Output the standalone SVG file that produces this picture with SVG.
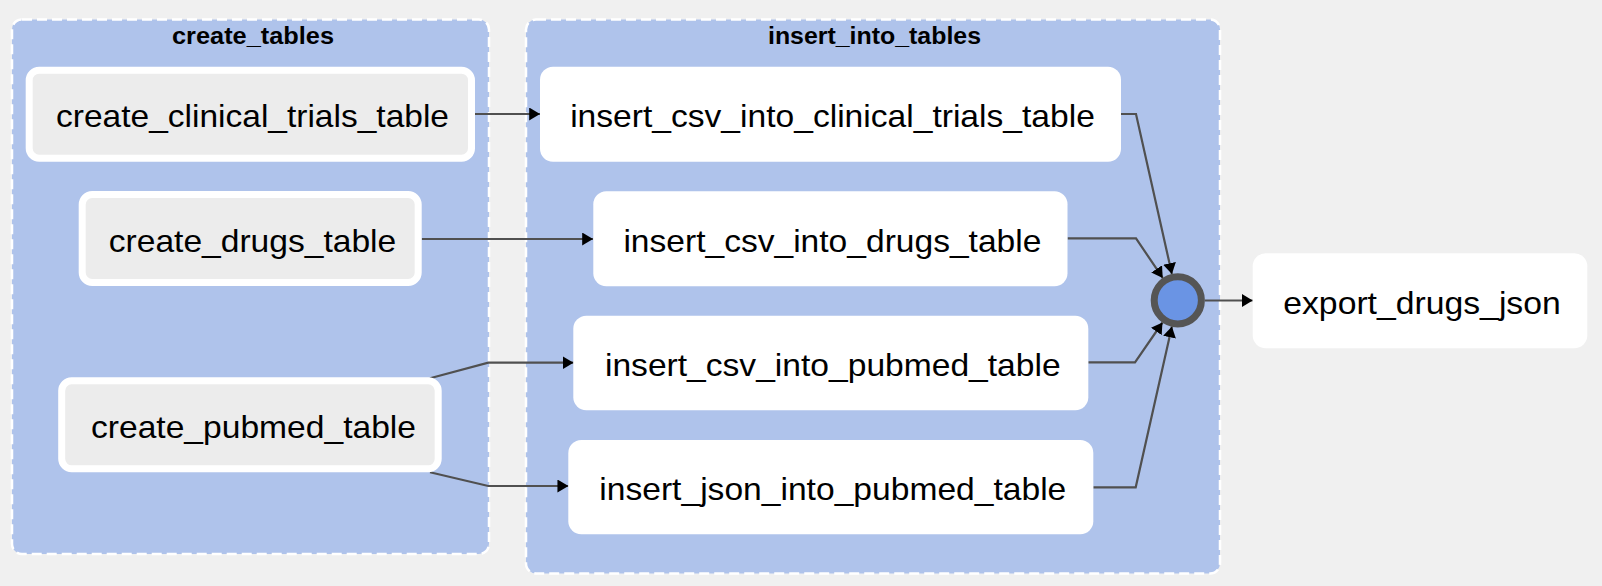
<svg xmlns="http://www.w3.org/2000/svg" width="1602" height="586" viewBox="0 0 1602 586">
<style>
.grp{fill:#afc3eb;stroke:#ffffff;stroke-width:2.5;stroke-dasharray:10 5;}
.gt{font-family:"Liberation Sans",Arial,sans-serif;font-weight:bold;font-size:23px;fill:#000;text-anchor:middle;}
.cn{fill:#ececec;stroke:#ffffff;stroke-width:7;}
.wn{fill:#ffffff;}
.nt{font-family:"Liberation Sans",Arial,sans-serif;font-size:32px;fill:#000;text-anchor:middle;}
.e{fill:none;stroke:#505050;stroke-width:2.2;marker-end:url(#ah);}
</style>
<defs>
<marker id="ah" viewBox="0 0 10 12" refX="10" refY="6" markerWidth="11" markerHeight="13" markerUnits="userSpaceOnUse" orient="auto">
<path d="M0,0 L10,6 L0,12 z" fill="#000000"/>
</marker>
</defs>
<rect x="0" y="0" width="1602" height="586" fill="#f0f0f0"/>
<g id="create_tables">
<rect class="grp" x="12" y="19.5" width="477" height="534.5" rx="10"/>
<text class="gt" x="253" y="43.5" textLength="162" lengthAdjust="spacingAndGlyphs">create_tables</text>
</g>
<g id="insert_into_tables">
<rect class="grp" x="526" y="19.5" width="694" height="554" rx="10"/>
<text class="gt" x="874.5" y="43.5" textLength="213" lengthAdjust="spacingAndGlyphs">insert_into_tables</text>
</g>
<g id="edges">
<path class="e" d="M475,114 L540,114"/>
<path class="e" d="M421.7,239 L593,239"/>
<path class="e" d="M430,378.3 L488.3,362.7 L573.5,362.7"/>
<path class="e" d="M430,472.3 L488.3,486 L568.3,486"/>
<path class="e" d="M1121,114 L1136,114 L1171.9,274"/>
<path class="e" d="M1067.5,238.3 L1136,238.3 L1162.7,277.9"/>
<path class="e" d="M1088.3,362.3 L1135,362.3 L1162.5,322.5"/>
<path class="e" d="M1093.3,487.3 L1135.7,487.3 L1171.9,326.6"/>
<path class="e" d="M1205,300.5 L1252.7,300.5"/>
</g>
<g id="create_clinical_trials_table">
<rect class="cn" x="29.2" y="70.2" width="442.3" height="88" rx="10"/>
<text class="nt" x="252.5" y="127.2" textLength="393" lengthAdjust="spacingAndGlyphs">create_clinical_trials_table</text>
</g>
<g id="create_drugs_table">
<rect class="cn" x="82.2" y="194.5" width="336" height="88" rx="10"/>
<text class="nt" x="252.5" y="251.7" textLength="287.5" lengthAdjust="spacingAndGlyphs">create_drugs_table</text>
</g>
<g id="create_pubmed_table">
<rect class="cn" x="61.7" y="380.8" width="376.5" height="88" rx="10"/>
<text class="nt" x="253.5" y="437.8" textLength="325" lengthAdjust="spacingAndGlyphs">create_pubmed_table</text>
</g>
<g id="insert_csv_into_clinical_trials_table">
<rect class="wn" x="540" y="66.7" width="581" height="95" rx="13"/>
<text class="nt" x="832.5" y="127.2" textLength="524.7" lengthAdjust="spacingAndGlyphs">insert_csv_into_clinical_trials_table</text>
</g>
<g id="insert_csv_into_drugs_table">
<rect class="wn" x="593.3" y="191.3" width="474.2" height="95" rx="13"/>
<text class="nt" x="832.4" y="251.7" textLength="418" lengthAdjust="spacingAndGlyphs">insert_csv_into_drugs_table</text>
</g>
<g id="insert_csv_into_pubmed_table">
<rect class="wn" x="573.3" y="315.7" width="515" height="94.5" rx="13"/>
<text class="nt" x="832.8" y="375.8" textLength="455.7" lengthAdjust="spacingAndGlyphs">insert_csv_into_pubmed_table</text>
</g>
<g id="insert_json_into_pubmed_table">
<rect class="wn" x="568.3" y="440" width="525" height="94.3" rx="13"/>
<text class="nt" x="832.8" y="500.2" textLength="467" lengthAdjust="spacingAndGlyphs">insert_json_into_pubmed_table</text>
</g>
<g id="join_circle">
<circle cx="1177.8" cy="300.3" r="23.6" fill="#6a94e4" stroke="#555555" stroke-width="7"/>
</g>
<g id="export_drugs_json">
<rect class="wn" x="1252.7" y="253.3" width="334.6" height="95" rx="13"/>
<text class="nt" x="1422" y="313.8" textLength="277.5" lengthAdjust="spacingAndGlyphs">export_drugs_json</text>
</g>
</svg>
